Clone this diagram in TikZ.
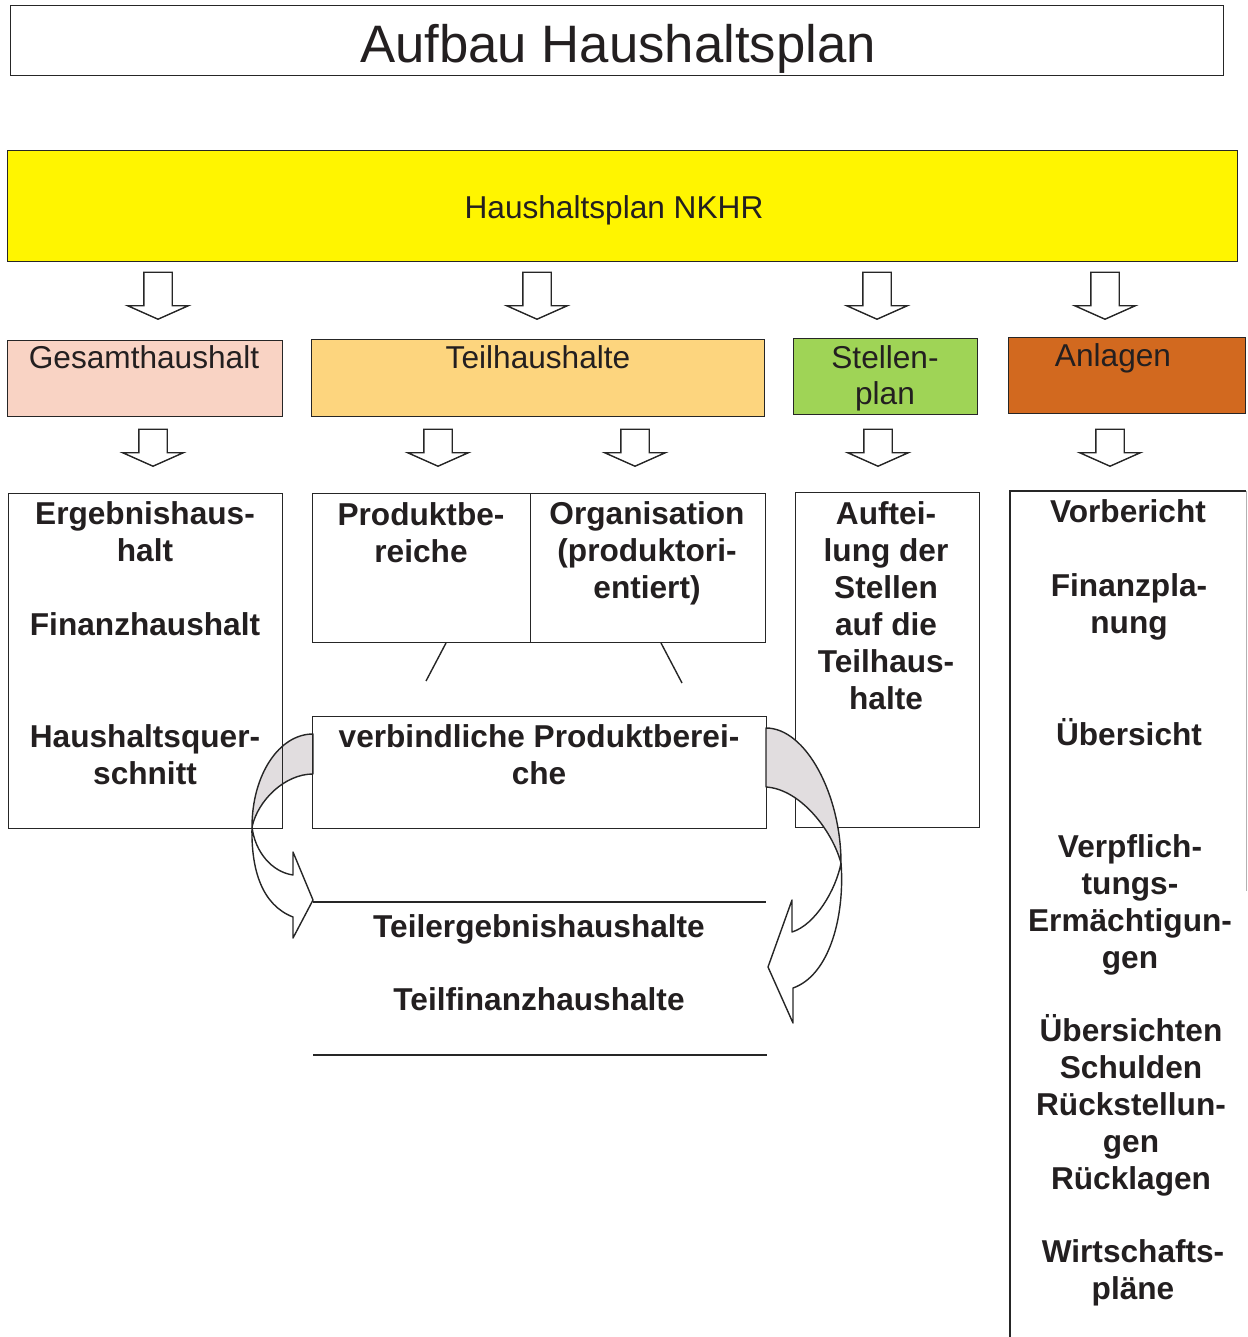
\documentclass[tikz,border=0pt]{standalone}
\usepackage{fontspec}
\setmainfont{Liberation Sans}
\usetikzlibrary{positioning, shapes.arrows}

\definecolor{planyellow}{HTML}{FFF500}
\definecolor{gesamtpink}{HTML}{F9D3C4}
\definecolor{teilorange}{HTML}{FDD57E}
\definecolor{stellengreen}{HTML}{9FD456}
\definecolor{anlagenbrown}{HTML}{D2691F}
\definecolor{ribbongray}{HTML}{E1DDDF}
\definecolor{textgray}{HTML}{231F20}

\tikzset{
  frame/.style={draw=black!85, line width=0.8pt, anchor=north west, inner sep=0pt},
  headtext/.style={font=\fontsize{18}{21}\selectfont, text=textgray, anchor=base, align=center, inner sep=0pt},
  boldtext/.style={font=\fontsize{18}{21}\selectfont\bfseries, text=textgray, anchor=base, align=center, inner sep=0pt},
  hollow/.style={single arrow, draw=black!85, line width=0.8pt, fill=white, rotate=-90, anchor=tip,
    inner xsep=0pt, inner ysep=0.27cm, single arrow head extend=0.32cm, single arrow tip angle=132},
  ribbon/.style={draw=black!85, line width=0.8pt, line join=round},
  thinline/.style={draw=black!85, line width=0.8pt},
}

\begin{document}
\begin{tikzpicture}[x=0.02cm, y=-0.02cm]
  \useasboundingbox (0,0) rectangle (1247,1337);

  % title
  \node(titlebox)[frame, minimum width=24.26cm, minimum height=1.40cm] at (10,5) {};
  \node(title)[headtext, font=\fontsize{30}{36}\selectfont] at (618,63) {Aufbau Haushaltsplan};

  % main plan
  \node(plan)[frame, fill=planyellow, minimum width=24.6cm, minimum height=2.22cm] at (7,150) {};
  \node(plantxt)[headtext] at (614,219) {Haushaltsplan NKHR};

  \node(a1)[hollow, minimum height=0.94cm] at (158,320) {};
  \node(a2)[hollow, minimum height=0.94cm] at (537,320) {};
  \node(a3)[hollow, minimum height=0.94cm] at (877,320) {};
  \node(a4)[hollow, minimum height=0.94cm] at (1105,320) {};

  % second row
  \node(gesamt)[frame, fill=gesamtpink, minimum width=5.5cm, minimum height=1.52cm] at (7,340) {};
  \node(teil)[frame, fill=teilorange, minimum width=9.06cm, minimum height=1.54cm] at (311,339) {};
  \node(stellen)[frame, fill=stellengreen, minimum width=3.68cm, minimum height=1.52cm] at (793,338) {};
  \node(anlagen)[frame, fill=anlagenbrown, minimum width=4.74cm, minimum height=1.52cm] at (1008,337) {};
  \node(gesamttxt)[headtext] at (144,369) {Gesamthaushalt};
  \node(teiltxt)[headtext] at (538,369) {Teilhaushalte};
  \node(stellentxt)[headtext] at (885,405) {Stellen-\\plan};
  \node(anlagentxt)[headtext] at (1113,367) {Anlagen};

  \node(b1)[hollow, minimum height=0.74cm] at (153,467) {};
  \node(b2)[hollow, minimum height=0.74cm] at (438,467) {};
  \node(b3)[hollow, minimum height=0.74cm] at (635,467) {};
  \node(b4)[hollow, minimum height=0.74cm] at (878,467) {};
  \node(b5)[hollow, minimum height=0.74cm] at (1110,467) {};

  % left ribbon arrow
  \draw[ribbon, fill=ribbongray] (313,734) .. controls (279,734) and (252,775) .. (252,827)
    .. controls (258,800) and (285,774) .. (313,774) -- cycle;
  \draw[ribbon] (252,827) .. controls (255,852) and (272,872) .. (293,875) -- (293,852) -- (313,900)
    -- (293,938) -- (293,917) .. controls (262,905) and (251,870) .. (252,827);

  % third row
  \node(ergebnis)[frame, minimum width=5.48cm, minimum height=6.70cm] at (8,493) {};
  \node(produkt)[frame, minimum width=4.36cm, minimum height=2.98cm] at (312,493) {};
  \node(organisation)[frame, minimum width=4.70cm, minimum height=2.98cm] at (530,493) {};
  \node(verbindlich)[frame, minimum width=9.08cm, minimum height=2.24cm] at (312,716) {};
  \node(stellenlow)[frame, minimum width=3.68cm, minimum height=6.70cm] at (795,492) {};
  \node(anlagenlow)[frame, draw=none, minimum width=4.70cm, minimum height=18cm] at (1010,491) {};
  \draw[thinline] (anlagenlow.south west) -- (anlagenlow.north west) -- (anlagenlow.north east);
  \draw[thinline, draw=black!30] (anlagenlow.north east) -- ++(0,-8cm);

  \draw[thinline] (446,643) -- (426,681);
  \draw[thinline] (661,643) -- (682,683);
  \draw[thinline] (313,902) -- (766,902);
  \draw[thinline] (313,1055) -- (767,1055);

  % right ribbon arrow
  \draw[ribbon, fill=ribbongray] (766,728) .. controls (806,728) and (841,795) .. (841,863)
    .. controls (832,830) and (800,789) .. (766,787) -- cycle;
  \draw[ribbon] (841,863) .. controls (836,890) and (815,925) .. (792,932) -- (792,900) -- (768,967)
    -- (793,1023) -- (793,988) .. controls (830,975) and (845,915) .. (841,863);

  % texts (multi-line nodes sit on their last line)
  \node(ergtxt)[boldtext] at (145,561) {Ergebnishaus-\\halt};
  \node(fintxt)[boldtext] at (145,635) {Finanzhaushalt};
  \node(quertxt)[boldtext] at (145,784) {Haushaltsquer-\\schnitt};
  \node(prodtxt)[boldtext] at (421,562) {Produktbe-\\reiche};
  \node(orgtxt)[boldtext] at (647,598) {Organisation\\(produktori-\\entiert)};
  \node(verbtxt)[boldtext] at (539,784) {verbindliche Produktberei-\\che};
  \node(teilerg)[boldtext] at (539,937) {Teilergebnishaushalte};
  \node(teilfin)[boldtext] at (539,1010) {Teilfinanzhaushalte};
  \node(stelltxt)[boldtext] at (886,709) {Auftei-\\lung der\\Stellen\\auf die\\Teilhaus-\\halte};
  \node(vorb)[boldtext] at (1128,522) {Vorbericht};
  \node(finpl)[boldtext] at (1129,633) {Finanzpla-\\nung};
  \node(uebers)[boldtext] at (1129,745) {Übersicht};
  \node(verpfl)[boldtext] at (1130,968) {Verpflich-\\tungs-\\Ermächtigun-\\gen};
  \node(schuld)[boldtext] at (1131,1189) {Übersichten\\Schulden\\Rückstellun-\\gen\\Rücklagen};
  \node(wirt)[boldtext] at (1133,1299) {Wirtschafts-\\pläne};
\end{tikzpicture}
\end{document}
